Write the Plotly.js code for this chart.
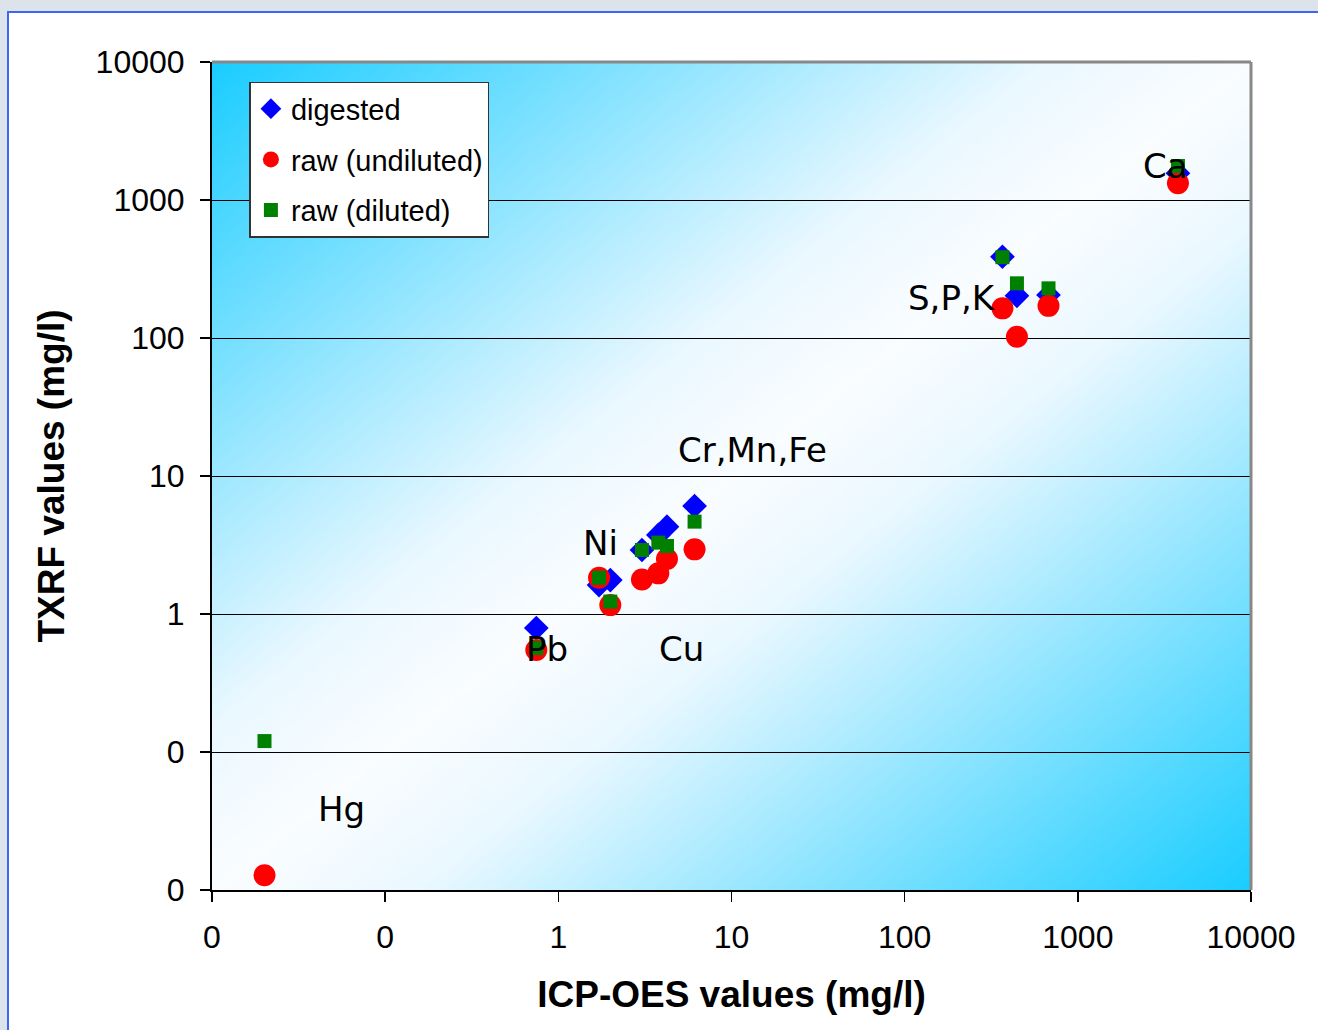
<!DOCTYPE html>
<html>
<head>
<meta charset="utf-8">
<script src="https://cdn.plot.ly/plotly-3.0.1.min.js"></script>
<style>
  html, body { margin: 0; padding: 0; width: 1318px; height: 1030px; overflow: hidden; background: #dce3ea; }
  #frame { position: absolute; left: 7px; top: 11px; width: 1311px; height: 1019px; background: #ffffff;
           border-top: 2px solid #3d66f5; border-left: 2px solid #3d66f5; box-sizing: border-box; }
  #chart { position: absolute; left: 0; top: 0; width: 1318px; height: 1030px; }
</style>
</head>
<body>
<div id="frame"></div>
<div id="chart"></div>
<script>
// ---- data ----
const icpValues     = [0.0201, 0.746, 1.718, 1.996, 3.04, 3.78, 4.24, 6.12, 367, 445, 677, 3785];
const digested      = [null,   0.792, 1.62,  1.76,  2.91, 3.74, 4.29, 6.06, 388, 202, 205, 1561];
const rawUndiluted  = [0.0128, 0.548, 1.83,  1.16,  1.78, 1.97, 2.50, 2.94, 164, 102, 171, 1321];
const rawDiluted    = [0.120,  0.567, 1.83,  1.23,  2.91, 3.29, 3.11, 4.67, 385, 249, 229, 1763];
const seriesNames   = ["digested", "raw (undiluted)", "raw (diluted)"];
const tickValues    = [0.01, 0.1, 1, 10, 100, 1000, 10000];
const tickLabels    = ["0", "0", "1", "10", "100", "1000", "10000"];
const elementLabels = ["Ca", "S,P,K", "Cr,Mn,Fe", "Ni", "Pb", "Cu", "Hg"];
const labelLogX     = [3.505, 2.275, 1.120, 0.2425, -0.0635, 0.710, -1.253];
const labelLogY     = [3.246, 2.290, 1.188, 0.514, -0.254, -0.254, -1.413];

// ---- gradient background for plot area ----
function gradientURL() {
  const c = document.createElement('canvas');
  c.width = 600; c.height = 600;
  const ctx = c.getContext('2d');
  const g = ctx.createLinearGradient(0, 0, 600, 600);
  g.addColorStop(0.00, 'rgb(25,205,255)');
  g.addColorStop(0.20, 'rgb(130,226,255)');
  g.addColorStop(0.40, 'rgb(234,248,255)');
  g.addColorStop(0.50, 'rgb(250,253,255)');
  g.addColorStop(0.60, 'rgb(234,248,255)');
  g.addColorStop(0.80, 'rgb(130,226,255)');
  g.addColorStop(1.00, 'rgb(25,205,255)');
  ctx.fillStyle = g;
  ctx.fillRect(0, 0, 600, 600);
  return c.toDataURL('image/png');
}

const traces = [
  { x: icpValues, y: digested, name: seriesNames[0], type: 'scatter', mode: 'markers', legendgroup: 'a',
    marker: { symbol: 'diamond', size: 19, color: '#0000ff', line: { width: 0 } } },
  { x: icpValues, y: rawUndiluted, name: seriesNames[1], type: 'scatter', mode: 'markers', legendgroup: 'b',
    marker: { symbol: 'circle', size: 22, color: '#ff0000', line: { width: 0 } } },
  { x: icpValues, y: rawDiluted, name: seriesNames[2], type: 'scatter', mode: 'markers', legendgroup: 'c',
    marker: { symbol: 'square', size: 14, color: '#008000', line: { width: 0 } } }
];

const annotations = elementLabels.map((t, i) => ({
  x: labelLogX[i], y: labelLogY[i], xref: 'x', yref: 'y', text: t, showarrow: false,
  font: { family: 'DejaVu Sans', size: 34, color: '#000000' }, xanchor: 'center', yanchor: 'middle'
}));

const layout = {
  width: 1318, height: 1030,
  margin: { l: 212, r: 67, t: 62, b: 140 },
  paper_bgcolor: 'rgba(0,0,0,0)',
  plot_bgcolor: 'rgba(0,0,0,0)',
  showlegend: true,
  legend: {
    x: 0.036, y: 0.976, xanchor: 'left', yanchor: 'top',
    bgcolor: '#ffffff', bordercolor: '#333333', borderwidth: 1.5,
    font: { family: 'Liberation Sans', size: 29, color: '#000000' },
    traceorder: 'grouped', tracegroupgap: 10
  },
  xaxis: {
    type: 'log', range: [-2, 4], tickvals: tickValues, ticktext: tickLabels,
    ticks: 'outside', ticklen: 10, tickwidth: 1.5, tickcolor: '#000000',
    showline: true, linecolor: '#000000', linewidth: 2, showgrid: false, zeroline: false,
    tickfont: { family: 'Liberation Sans', size: 32, color: '#000000' },
    ticklabelstandoff: 8,
    title: { text: 'ICP-OES values (mg/l)', font: { family: 'Liberation Sans', size: 37, color: '#000000', weight: 'bold' }, standoff: 27 }
  },
  yaxis: {
    type: 'log', range: [-2, 4], tickvals: tickValues, ticktext: tickLabels,
    ticks: 'outside', ticklen: 10, tickwidth: 1.5, tickcolor: '#000000',
    showline: true, linecolor: '#000000', linewidth: 2, showgrid: true, gridcolor: '#000000', gridwidth: 1, zeroline: false,
    tickfont: { family: 'Liberation Sans', size: 32, color: '#000000' },
    ticklabelstandoff: 9,
    title: { text: 'TXRF values (mg/l)', font: { family: 'Liberation Sans', size: 37, color: '#000000', weight: 'bold' }, standoff: 20 }
  },
  images: [{ source: gradientURL(), xref: 'paper', yref: 'paper', x: 0, y: 1, sizex: 1, sizey: 1,
             xanchor: 'left', yanchor: 'top', sizing: 'stretch', layer: 'below' }],
  shapes: [
    { type: 'line', xref: 'paper', yref: 'paper', x0: 0, x1: 1, y0: 1, y1: 1, line: { color: '#888888', width: 3 } },
    { type: 'line', xref: 'paper', yref: 'paper', x0: 1, x1: 1, y0: 0, y1: 1, line: { color: '#888888', width: 3 } }
  ],
  annotations: annotations
};

Plotly.newPlot('chart', traces, layout, { displayModeBar: false, staticPlot: true });
</script>
</body>
</html>
